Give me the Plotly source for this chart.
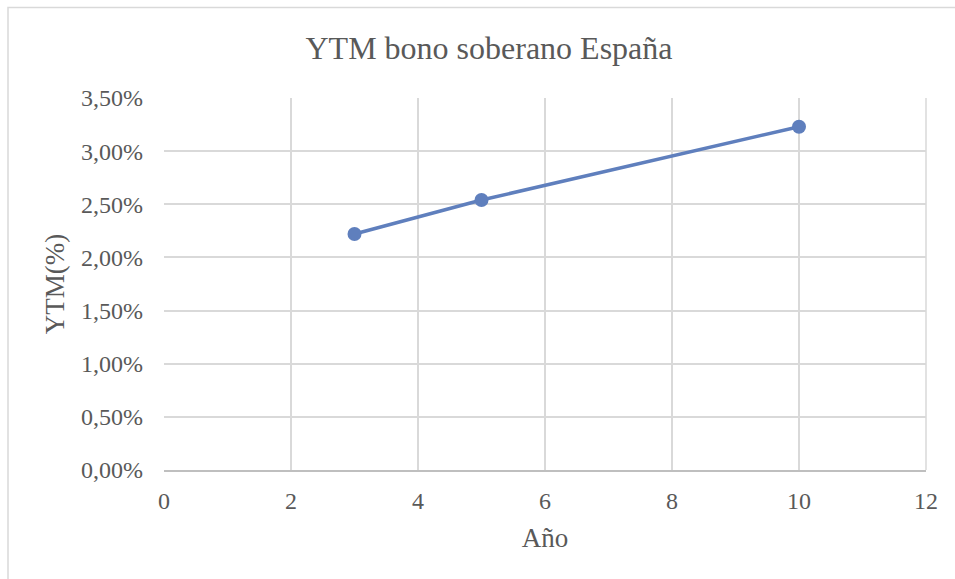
import plotly.graph_objects as go

# Yield-to-maturity of Spanish sovereign bonds by tenor
anios = [3, 5, 10]
ytm = [0.0222, 0.0254, 0.0323]

x_ticks = [0, 2, 4, 6, 8, 10, 12]
y_ticks = [0, 0.005, 0.01, 0.015, 0.02, 0.025, 0.03, 0.035]

W, H = 955, 579
L, R, T, B = 164, 29, 98, 109
pw, ph = W - L - R, H - T - B

serie = "#5f7fbd"
texto = "#595959"
rejilla = "#d9d9d9"
fuente = "Liberation Serif, Times New Roman, serif"

fig = go.Figure()
fig.add_trace(go.Scatter(
    x=anios, y=ytm, mode="lines+markers",
    line=dict(color=serie, width=3.5),
    marker=dict(color=serie, size=14),
    showlegend=False,
))

# chart outer frame (runs off the right and bottom edges)
fig.add_shape(
    type="rect", xref="paper", yref="paper",
    x0=(8 - L) / pw, x1=(W + 10 - L) / pw,
    y0=-(B + 10) / ph, y1=1 + (T - 7.5) / ph,
    line=dict(color=rejilla, width=1.5), layer="below",
)

fig.update_layout(
    width=W, height=H,
    margin=dict(l=L, r=R, t=T, b=B),
    paper_bgcolor="white", plot_bgcolor="white",
    separators=", ",
    font=dict(family=fuente, color=texto, size=24),
    title=dict(text="YTM bono soberano España", xref="container", x=489 / W,
               xanchor="center", y=1 - 48 / H, yanchor="middle",
               font=dict(size=32, color=texto, family=fuente)),
)
fig.update_xaxes(
    range=[0, 12], tickvals=x_ticks, showgrid=True, gridcolor=rejilla, gridwidth=1.5,
    zeroline=False, showline=True, linecolor="#bfbfbf", linewidth=1.5,
    ticklabelstandoff=8,
    title=dict(text="Año", font=dict(size=27, color=texto), standoff=16),
)
fig.update_yaxes(
    range=[0, 0.035], tickvals=y_ticks, tickformat=".2%", showgrid=True,
    gridcolor=rejilla, gridwidth=1.5, zeroline=False, showline=False,
    ticklabelstandoff=20,
    title=dict(text="YTM(%)", font=dict(size=27, color=texto), standoff=8),
)
fig.add_shape(type="line", xref="paper", yref="paper", x0=1, x1=1, y0=0, y1=1,
              line=dict(color=rejilla, width=1.5))

fig.write_html("out.html")
